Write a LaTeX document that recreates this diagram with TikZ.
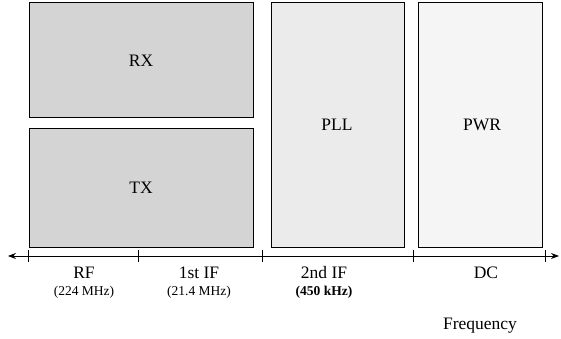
\documentclass[tikz,border=0pt]{standalone}
\usepackage{fontspec}
\setmainfont{Liberation Serif}
\usetikzlibrary{arrows.meta}
\begin{document}
\begin{tikzpicture}[x=1pt,y=-1pt,
  blockbox/.style={draw=black, line width=1pt},
  bigtxt/.style={font=\fontsize{17.5}{19}\selectfont},
  smalltxt/.style={font=\fontsize{13.5}{15}\selectfont},
  tickmark/.style={line width=0.8pt}]
\useasboundingbox (0,0) rectangle (561,339);
% blocks
\draw[blockbox, fill=black!17] (29,3) rectangle (253,118);
\draw[blockbox, fill=black!17] (29,129) rectangle (253,247);
\draw[blockbox, fill=black!8] (271,3) rectangle (404,247);
\draw[blockbox, fill=black!4] (418,3) rectangle (542,247);
\node[bigtxt] (rx) at (141,61) {RX};
\node[bigtxt] (tx) at (141,188) {TX};
\node[bigtxt] (pll) at (337,125) {PLL};
\node[bigtxt] (pwr) at (482,125) {PWR};
% axis
\coordinate (left) at (8,256);
\coordinate (right) at (559,256);
\draw[line width=0.8pt, {Stealth[length=8pt,width=6pt]}-{Stealth[length=8pt,width=6pt]}] (left) -- (right);
\foreach \x in {28,138,262,413,545} \draw[tickmark] (\x,250) -- (\x,262);
% labels
\node[bigtxt] (rf) at (84,273) {RF};
\node[smalltxt] (rff) at (84,292) {(224 MHz)};
\node[bigtxt] (if1) at (199,273) {1st IF};
\node[smalltxt] (if1f) at (199,292) {(21.4 MHz)};
\node[bigtxt] (if2) at (324,273) {2nd IF};
\node[smalltxt] (if2f) at (324,292) {\bfseries (450 kHz)};
\node[bigtxt] (dc) at (486,273) {DC};
\node[bigtxt] (freq) at (480,326) {Frequency};
\end{tikzpicture}
\end{document}
